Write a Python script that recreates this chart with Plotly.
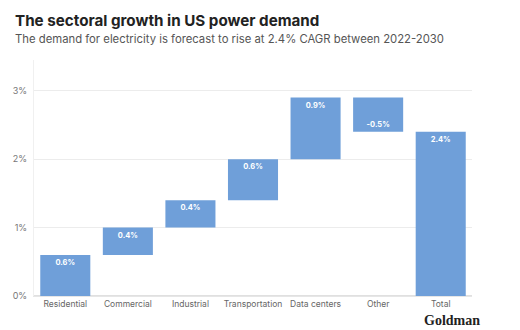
import plotly.graph_objects as go

categories = ["Residential", "Commercial", "Industrial", "Transportation", "Data centers", "Other", "Total"]
values = [0.6, 0.4, 0.4, 0.6, 0.9, -0.5, 2.4]
measures = ["relative", "relative", "relative", "relative", "relative", "relative", "total"]
labels = ["0.6%", "0.4%", "0.4%", "0.6%", "0.9%", "-0.5%", "2.4%"]
tick_vals = [0, 1, 2, 3]
tick_text = ["0%", "1%", "2%", "3%"]

bar_color = "#6f9fd9"
PW, PH, L, T = 438, 236, 34, 60

def px(xp):
    return (xp - L) / PW

def py(yp):
    return 1 - (yp - T) / PH

fig = go.Figure(go.Waterfall(
    x=categories,
    y=values,
    measure=measures,
    text=labels,
    textposition="inside",
    insidetextanchor="end",
    textfont=dict(family="Inter, Roboto, sans-serif", size=7.5, color="white", weight="bold"),
    increasing=dict(marker=dict(color=bar_color)),
    decreasing=dict(marker=dict(color=bar_color)),
    totals=dict(marker=dict(color=bar_color)),
    connector=dict(visible=False),
    hoverinfo="skip",
))

fig.update_layout(
    width=520, height=330,
    margin=dict(l=L, r=520 - L - PW, t=T, b=330 - T - PH),
    paper_bgcolor="white", plot_bgcolor="white",
    showlegend=False,
    bargap=0.2,
    uniformtext=dict(minsize=6, mode="show"),
    font=dict(family="Inter, Roboto, sans-serif", color="#555"),
)
fig.update_yaxes(
    range=[0, 3.45], tickvals=tick_vals, ticktext=tick_text,
    showgrid=True, gridcolor="#ececec", gridwidth=1,
    zeroline=True, zerolinecolor="#e0e0e0",
    showline=True, linecolor="#f0f0f0",
    tickfont=dict(size=9, color="#777"), ticks="", ticklabelstandoff=4,
)
fig.update_xaxes(
    showgrid=False, tickfont=dict(size=8.5, color="#666"), ticks="",
    showline=True, linecolor="#e6e6e6",
)

fig.add_annotation(xref="paper", yref="paper", x=px(13), y=py(20), xanchor="left", yanchor="middle",
                   text="<b>The sectoral growth in US power demand</b>", showarrow=False,
                   font=dict(family="Inter, Roboto, sans-serif", size=15.2, color="#222"))
fig.add_annotation(xref="paper", yref="paper", x=px(13), y=py(39), xanchor="left", yanchor="middle",
                   text="The demand for electricity is forecast to rise at 2.4% CAGR between 2022-2030", showarrow=False,
                   font=dict(family="Inter, Roboto, sans-serif", size=11.3, color="#555"))
fig.add_annotation(xref="paper", yref="paper", x=px(482), y=py(330), xanchor="right", yanchor="bottom",
                   text="<b>Goldman</b>", showarrow=False,
                   font=dict(family="Liberation Serif, DejaVu Serif, serif", size=14, color="#222"))

fig.write_html("out.html")
